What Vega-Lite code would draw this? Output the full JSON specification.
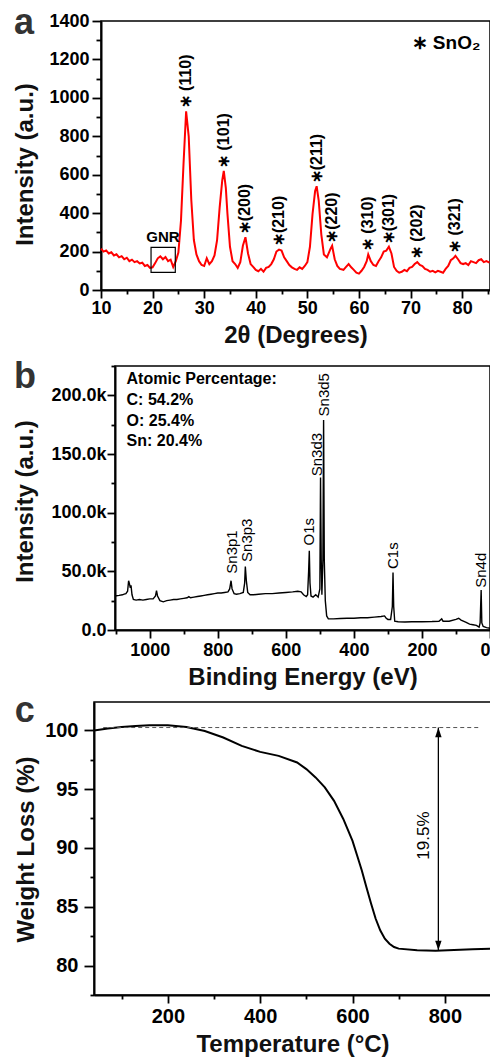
{
  "$schema": "https://vega.github.io/schema/vega-lite/v6.json",
  "background": "white",
  "padding": {"left": 12, "top": 4, "right": 0, "bottom": 0},
  "spacing": 10,
  "datasets": {
    "xrd": [
      {"t":10,"i":215},{"t":10.5,"i":200},{"t":11,"i":206},{"t":11.5,"i":190},{"t":12,"i":196},{"t":12.5,"i":180},{"t":13,"i":186},{"t":13.5,"i":170},{"t":14,"i":176},{"t":14.5,"i":160},{"t":15,"i":168},{"t":15.5,"i":150},{"t":16,"i":158},{"t":16.5,"i":145},{"t":17,"i":150},{"t":17.5,"i":138},{"t":18,"i":142},{"t":18.5,"i":125},{"t":19,"i":130},{"t":19.5,"i":115},{"t":20,"i":118},{"t":20.5,"i":140},{"t":21,"i":165},{"t":21.5,"i":175},{"t":22,"i":160},{"t":22.5,"i":172},{"t":23,"i":150},{"t":23.5,"i":158},{"t":24,"i":120},{"t":24.5,"i":150},{"t":25,"i":195},{"t":25.5,"i":360},{"t":26,"i":660},{"t":26.5,"i":930},{"t":27,"i":800},{"t":27.5,"i":470},{"t":28,"i":260},{"t":28.5,"i":185},{"t":29,"i":150},{"t":29.5,"i":130},{"t":30,"i":125},{"t":30.5,"i":165},{"t":31,"i":135},{"t":31.5,"i":150},{"t":32,"i":180},{"t":32.5,"i":260},{"t":33,"i":430},{"t":33.5,"i":570},{"t":33.8,"i":620},{"t":34.2,"i":530},{"t":34.5,"i":400},{"t":35,"i":225},{"t":35.5,"i":150},{"t":36,"i":135},{"t":36.5,"i":115},{"t":37,"i":145},{"t":37.5,"i":230},{"t":38,"i":275},{"t":38.5,"i":190},{"t":39,"i":135},{"t":39.5,"i":120},{"t":40,"i":105},{"t":40.5,"i":98},{"t":41,"i":110},{"t":41.5,"i":95},{"t":42,"i":115},{"t":42.5,"i":120},{"t":43,"i":135},{"t":43.5,"i":160},{"t":44,"i":200},{"t":44.5,"i":210},{"t":45,"i":205},{"t":45.5,"i":170},{"t":46,"i":150},{"t":46.5,"i":130},{"t":47,"i":118},{"t":47.5,"i":110},{"t":48,"i":105},{"t":48.5,"i":118},{"t":49,"i":110},{"t":49.5,"i":125},{"t":50,"i":145},{"t":50.5,"i":225},{"t":51,"i":395},{"t":51.5,"i":515},{"t":51.8,"i":540},{"t":52.2,"i":465},{"t":52.7,"i":290},{"t":53.2,"i":185},{"t":53.8,"i":170},{"t":54.5,"i":215},{"t":54.8,"i":230},{"t":55.3,"i":160},{"t":55.8,"i":125},{"t":56.3,"i":110},{"t":57,"i":105},{"t":57.5,"i":120},{"t":58,"i":135},{"t":58.5,"i":118},{"t":59,"i":105},{"t":59.5,"i":90},{"t":60,"i":85},{"t":60.5,"i":100},{"t":61,"i":120},{"t":61.5,"i":150},{"t":61.8,"i":185},{"t":62.3,"i":150},{"t":62.8,"i":130},{"t":63.3,"i":125},{"t":63.8,"i":150},{"t":64.3,"i":170},{"t":64.8,"i":200},{"t":65.3,"i":205},{"t":65.8,"i":225},{"t":66.3,"i":190},{"t":66.8,"i":120},{"t":67.3,"i":100},{"t":67.8,"i":90},{"t":68.3,"i":95},{"t":68.8,"i":105},{"t":69.3,"i":98},{"t":69.8,"i":115},{"t":70.3,"i":120},{"t":70.8,"i":135},{"t":71.3,"i":145},{"t":71.8,"i":130},{"t":72.3,"i":125},{"t":72.8,"i":110},{"t":73.3,"i":105},{"t":73.8,"i":95},{"t":74.3,"i":100},{"t":74.8,"i":92},{"t":75.3,"i":100},{"t":75.8,"i":95},{"t":76.3,"i":90},{"t":76.8,"i":110},{"t":77.3,"i":125},{"t":77.8,"i":155},{"t":78.3,"i":165},{"t":78.7,"i":178},{"t":79.2,"i":160},{"t":79.7,"i":140},{"t":80.2,"i":135},{"t":80.7,"i":140},{"t":81.2,"i":130},{"t":81.7,"i":150},{"t":82.2,"i":145},{"t":82.7,"i":140},{"t":83.2,"i":155},{"t":83.7,"i":160},{"t":84.2,"i":145},{"t":84.7,"i":150},{"t":85.3,"i":142}
    ],
    "xrdLabels": [
      {"t":26.5,"i":935,"s":"∗ (110)"},{"t":33.8,"i":625,"s":"∗ (101)"},{"t":38,"i":280,"s":"∗(200)"},{"t":44.5,"i":218,"s":"∗(210)"},{"t":51.8,"i":545,"s":"∗(211)"},{"t":54.8,"i":235,"s":"∗(220)"},{"t":61.8,"i":192,"s":"∗ (310)"},{"t":65.8,"i":228,"s":"∗(301)"},{"t":71.3,"i":150,"s":"∗ (202)"},{"t":78.7,"i":182,"s":"∗ (321)"}
    ],
    "gnrBox": [{"x1":19.7,"x2":24.4,"y1":92,"y2":222}],
    "gnrText": [{"t":22,"i":277,"s":"GNR"}],
    "legendText": [{"t":70.2,"i":1288,"s":"∗ SnO₂"}],
    "xps": [
      {"be":1102,"c":29000},{"be":1090,"c":29500},{"be":1080,"c":30000},{"be":1075,"c":30500},{"be":1070,"c":31000},{"be":1065,"c":33000},{"be":1062,"c":42000},{"be":1060,"c":40000},{"be":1057,"c":36000},{"be":1055,"c":38000},{"be":1052,"c":30000},{"be":1048,"c":26000},{"be":1040,"c":25500},{"be":1030,"c":26000},{"be":1020,"c":25500},{"be":1010,"c":26000},{"be":1000,"c":26500},{"be":990,"c":26500},{"be":983,"c":29000},{"be":980,"c":33500},{"be":977,"c":29000},{"be":970,"c":25000},{"be":960,"c":24000},{"be":950,"c":25000},{"be":940,"c":25500},{"be":930,"c":26000},{"be":920,"c":26000},{"be":910,"c":26500},{"be":900,"c":27000},{"be":890,"c":27500},{"be":885,"c":28500},{"be":880,"c":27500},{"be":870,"c":28000},{"be":860,"c":28500},{"be":850,"c":29000},{"be":840,"c":29500},{"be":830,"c":30000},{"be":820,"c":30500},{"be":810,"c":31000},{"be":800,"c":31500},{"be":790,"c":31500},{"be":780,"c":32000},{"be":770,"c":32500},{"be":765,"c":35000},{"be":761,"c":42000},{"be":758,"c":35000},{"be":752,"c":31000},{"be":745,"c":30500},{"be":735,"c":31000},{"be":725,"c":32000},{"be":721,"c":40000},{"be":719,"c":54000},{"be":716,"c":42000},{"be":712,"c":32000},{"be":705,"c":30000},{"be":695,"c":30000},{"be":680,"c":30500},{"be":660,"c":31000},{"be":640,"c":31000},{"be":620,"c":31500},{"be":600,"c":32000},{"be":580,"c":32500},{"be":565,"c":33000},{"be":555,"c":32500},{"be":548,"c":30000},{"be":540,"c":28500},{"be":536,"c":30000},{"be":533,"c":50000},{"be":531,"c":67500},{"be":529,"c":40000},{"be":526,"c":29000},{"be":520,"c":28000},{"be":512,"c":30000},{"be":505,"c":28000},{"be":500,"c":35000},{"be":498,"c":130000},{"be":496,"c":60000},{"be":494,"c":30000},{"be":491,"c":60000},{"be":489,"c":179000},{"be":487,"c":60000},{"be":484,"c":25000},{"be":480,"c":12000},{"be":475,"c":9500},{"be":460,"c":9500},{"be":440,"c":9800},{"be":420,"c":10000},{"be":400,"c":10000},{"be":380,"c":10500},{"be":360,"c":10500},{"be":340,"c":11000},{"be":320,"c":11500},{"be":310,"c":12000},{"be":305,"c":10000},{"be":300,"c":9000},{"be":292,"c":9000},{"be":287,"c":20000},{"be":285,"c":49000},{"be":283,"c":20000},{"be":280,"c":7500},{"be":270,"c":7000},{"be":250,"c":6800},{"be":230,"c":7000},{"be":200,"c":7000},{"be":170,"c":7200},{"be":150,"c":7500},{"be":142,"c":9500},{"be":138,"c":7500},{"be":120,"c":7500},{"be":100,"c":9000},{"be":92,"c":10000},{"be":85,"c":8500},{"be":70,"c":6500},{"be":60,"c":5000},{"be":50,"c":4500},{"be":40,"c":4000},{"be":32,"c":2500},{"be":29,"c":6000},{"be":26,"c":34000},{"be":24,"c":6000},{"be":20,"c":3000},{"be":10,"c":2000},{"be":0,"c":1500}
    ],
    "xpsLabels": [
      {"be":758,"c":48000,"s":"Sn3p1"},{"be":714,"c":58000,"s":"Sn3p3"},{"be":533,"c":72000,"s":"O1s"},{"be":508,"c":131000,"s":"Sn3d3"},{"be":489,"c":182000,"s":"Sn3d5"},{"be":284,"c":52000,"s":"C1s"},{"be":25,"c":36000,"s":"Sn4d"}
    ],
    "xpsText": [
      {"be":1068,"c":214000,"s":"Atomic Percentage:"},{"be":1068,"c":195700,"s":"C: 54.2%"},{"be":1068,"c":177800,"s":"O: 25.4%"},{"be":1068,"c":160700,"s":"Sn: 20.4%"}
    ],
    "tga": [
      {"T":40,"w":99.98},{"T":70,"w":100.15},{"T":100,"w":100.28},{"T":130,"w":100.36},{"T":160,"w":100.42},{"T":200,"w":100.42},{"T":240,"w":100.28},{"T":280,"w":99.94},{"T":320,"w":99.38},{"T":360,"w":98.67},{"T":400,"w":98.16},{"T":440,"w":97.82},{"T":480,"w":97.26},{"T":500,"w":96.7},{"T":520,"w":95.99},{"T":540,"w":95.14},{"T":560,"w":94.0},{"T":580,"w":92.46},{"T":600,"w":90.6},{"T":610,"w":89.35},{"T":620,"w":88.1},{"T":630,"w":86.67},{"T":640,"w":85.3},{"T":650,"w":84.0},{"T":660,"w":83.0},{"T":670,"w":82.29},{"T":680,"w":81.86},{"T":690,"w":81.58},{"T":700,"w":81.44},{"T":740,"w":81.3},{"T":780,"w":81.27},{"T":820,"w":81.33},{"T":860,"w":81.38},{"T":900,"w":81.44}
    ],
    "tgaDash": [{"x1":60,"x2":877,"y":100.23}],
    "tgaArrow": [{"x":786,"y1":100.23,"y2":81.3}],
    "tgaText": [{"x":755,"y":91.05,"s":"19.5%"}]
  },
  "vconcat": [
    {
      "spacing": 0,
      "hconcat": [
        {"width": 1, "height": 1, "data": {"values": []}, "mark": {"type": "point", "opacity": 0}, "view": {"stroke": null}},
        {
          "width": 389,
          "height": 269,
          "title": {"text": "a", "offset": -30},
          "resolve": {"axis": {"x": "independent", "y": "independent"}},
          "layer": [
            {
              "data": {"name": "xrd"},
              "mark": {"type": "line", "color": "#ff0000", "strokeWidth": 2},
              "encoding": {
                "x": {"field": "t", "type": "quantitative",
                  "scale": {"domain": [10, 85.4], "nice": false, "zero": false},
                  "axis": {"orient": "bottom", "title": "2θ (Degrees)", "values": [10,20,30,40,50,60,70,80],
                    "tickSize": 8, "labelPadding": 1, "titlePadding": 6, "labelFlush": false}},
                "y": {"field": "i", "type": "quantitative",
                  "scale": {"domain": [0, 1400], "nice": false},
                  "axis": {"orient": "left", "title": "Intensity (a.u.)", "format": "d", "values": [0,200,400,600,800,1000,1200,1400],
                    "tickSize": 9, "labelPadding": 3, "titlePadding": 11, "titleY": 143}}
              }
            },
            {
              "data": {"name": "gnrBox"},
              "mark": {"type": "rect", "fill": null, "fillOpacity": 0, "stroke": "black", "strokeWidth": 1.2},
              "encoding": {
                "x": {"field": "x1", "type": "quantitative",
                  "axis": {"orient": "bottom", "title": null, "labels": false, "domain": false, "values": [15,25,35,45,55,65,75,85], "tickSize": 4}},
                "x2": {"field": "x2"},
                "y": {"field": "y1", "type": "quantitative",
                  "axis": {"orient": "left", "title": null, "labels": false, "domain": false, "values": [100,300,500,700,900,1100,1300], "tickSize": 5}},
                "y2": {"field": "y2"}
              }
            },
            {
              "data": {"name": "gnrText"},
              "mark": {"type": "text", "font": "Liberation Sans", "fontWeight": "bold", "fontSize": 15, "align": "center", "baseline": "middle"},
              "encoding": {
                "x": {"field": "t", "type": "quantitative", "axis": null}, "y": {"field": "i", "type": "quantitative", "axis": null}, "text": {"field": "s"}
              }
            },
            {
              "data": {"name": "xrdLabels"},
              "mark": {"type": "text", "font": "Liberation Sans", "fontWeight": "bold", "fontSize": 16, "angle": 270, "align": "left", "baseline": "middle", "dx": 2},
              "encoding": {
                "x": {"field": "t", "type": "quantitative", "axis": null}, "y": {"field": "i", "type": "quantitative", "axis": null}, "text": {"field": "s"}
              }
            },
            {
              "data": {"name": "legendText"},
              "mark": {"type": "text", "font": "Liberation Sans", "fontWeight": "bold", "fontSize": 19, "align": "left", "baseline": "middle"},
              "encoding": {
                "x": {"field": "t", "type": "quantitative", "axis": null}, "y": {"field": "i", "type": "quantitative", "axis": null}, "text": {"field": "s"}
              }
            }
          ]
        }
      ]
    },
    {
      "spacing": 2,
      "vconcat": [
        {
          "spacing": 0,
          "hconcat": [
            {"width": 1, "height": 1, "data": {"values": []}, "mark": {"type": "point", "opacity": 0}, "view": {"stroke": null}},
            {
              "width": 375,
              "height": 264,
              "title": {"text": "b", "offset": -31},
              "resolve": {"axis": {"x": "independent", "y": "independent"}},
              "layer": [
                {
                  "data": {"name": "xps"},
                  "mark": {"type": "line", "color": "black", "strokeWidth": 1.4},
                  "encoding": {
                    "x": {"field": "be", "type": "quantitative",
                      "scale": {"domain": [1102, 0], "nice": false, "zero": false},
                      "axis": {"orient": "bottom", "title": "Binding Energy (eV)", "format": "d", "values": [1000,800,600,400,200,0],
                        "tickSize": 8, "labelPadding": 3, "titlePadding": 6, "labelFlush": true}},
                    "y": {"field": "c", "type": "quantitative",
                      "scale": {"domain": [0, 225000], "nice": false},
                      "axis": {"orient": "left", "title": "Intensity (a.u.)", "values": [0,50000,100000,150000,200000],
                        "labelExpr": "format(datum.value/1000, '.1f') + (datum.value == 0 ? '' : 'k')",
                        "tickSize": 8, "labelPadding": 1, "titlePadding": 13, "titleY": 135}}
                  }
                },
                {
                  "data": {"name": "xpsLabels"},
                  "mark": {"type": "text", "font": "Liberation Sans", "fontSize": 15, "angle": 270, "align": "left", "baseline": "middle"},
                  "encoding": {
                    "x": {"field": "be", "type": "quantitative",
                      "axis": {"orient": "bottom", "title": null, "labels": false, "domain": false, "values": [1100,900,700,500,300,100], "tickSize": 4}},
                    "y": {"field": "c", "type": "quantitative",
                      "axis": {"orient": "left", "title": null, "labels": false, "domain": false, "values": [25000,75000,125000,175000,225000], "tickSize": 4}},
                    "text": {"field": "s"}
                  }
                },
                {
                  "data": {"name": "xpsText"},
                  "mark": {"type": "text", "font": "Liberation Sans", "fontWeight": "bold", "fontSize": 16, "align": "left", "baseline": "middle"},
                  "encoding": {
                    "x": {"field": "be", "type": "quantitative", "axis": null}, "y": {"field": "c", "type": "quantitative", "axis": null}, "text": {"field": "s"}
                  }
                }
              ]
            }
          ]
        },
        {
          "spacing": 0,
          "hconcat": [
            {"width": 1, "height": 1, "data": {"values": []}, "mark": {"type": "point", "opacity": 0}, "view": {"stroke": null}},
            {
              "width": 397,
              "height": 293,
              "title": {"text": "c", "offset": -28},
              "resolve": {"axis": {"x": "independent", "y": "independent"}},
              "layer": [
                {
                  "data": {"name": "tga"},
                  "mark": {"type": "line", "color": "black", "strokeWidth": 2},
                  "encoding": {
                    "x": {"field": "T", "type": "quantitative",
                      "scale": {"domain": [40, 900], "nice": false, "zero": false},
                      "axis": {"orient": "bottom", "title": "Temperature (°C)", "values": [200,400,600,800],
                        "tickSize": 8, "labelFontSize": 20, "labelPadding": 3, "titlePadding": 6, "labelFlush": false}},
                    "y": {"field": "w", "type": "quantitative",
                      "scale": {"domain": [77.5, 102.4], "nice": false, "zero": false},
                      "axis": {"orient": "left", "title": "Weight Loss (%)", "format": "d", "values": [80,85,90,95,100],
                        "tickSize": 10, "labelFontSize": 20, "labelPadding": 6, "titlePadding": 6, "titleY": 147}}
                  }
                },
                {
                  "data": {"name": "tgaDash"},
                  "mark": {"type": "rule", "color": "#555", "strokeWidth": 1, "strokeDash": [4, 3]},
                  "encoding": {
                    "x": {"field": "x1", "type": "quantitative",
                      "axis": {"orient": "bottom", "title": null, "labels": false, "domain": false, "values": [100,300,500,700,900], "tickSize": 4}},
                    "x2": {"field": "x2"},
                    "y": {"field": "y", "type": "quantitative",
                      "axis": {"orient": "left", "title": null, "labels": false, "domain": false, "values": [77.5,82.5,87.5,92.5,97.5], "tickSize": 4}}
                  }
                },
                {
                  "data": {"name": "tgaArrow"},
                  "mark": {"type": "rule", "color": "black", "strokeWidth": 1.3},
                  "encoding": {
                    "x": {"field": "x", "type": "quantitative", "axis": null}, "y": {"field": "y1", "type": "quantitative", "axis": null}, "y2": {"field": "y2"}
                  }
                },
                {
                  "data": {"name": "tgaArrow"},
                  "mark": {"type": "point", "shape": "M0,0L-0.8,2.4L0.8,2.4Z", "filled": true, "color": "black", "size": 64, "opacity": 1},
                  "encoding": {
                    "x": {"field": "x", "type": "quantitative", "axis": null}, "y": {"field": "y1", "type": "quantitative", "axis": null}
                  }
                },
                {
                  "data": {"name": "tgaArrow"},
                  "mark": {"type": "point", "shape": "M0,0L-0.8,-2.4L0.8,-2.4Z", "filled": true, "color": "black", "size": 64, "opacity": 1},
                  "encoding": {
                    "x": {"field": "x", "type": "quantitative", "axis": null}, "y": {"field": "y2", "type": "quantitative", "axis": null}
                  }
                },
                {
                  "data": {"name": "tgaText"},
                  "mark": {"type": "text", "font": "Liberation Sans", "fontSize": 17, "angle": 270, "align": "center", "baseline": "middle"},
                  "encoding": {
                    "x": {"field": "x", "type": "quantitative", "axis": null}, "y": {"field": "y", "type": "quantitative", "axis": null}, "text": {"field": "s"}
                  }
                }
              ]
            }
          ]
        }
      ]
    }
  ],
  "config": {
    "view": {"stroke": "black", "strokeWidth": 1.5},
    "axis": {"domainColor": "black", "domainWidth": 2, "tickColor": "black", "tickWidth": 1.8,
      "labelFont": "Liberation Sans", "labelFontWeight": "bold", "labelFontSize": 18, "labelColor": "black",
      "titleFont": "Liberation Sans", "titleFontWeight": "bold", "titleFontSize": 24, "titleColor": "#111",
      "grid": false, "labelOverlap": false},
    "title": {"font": "Liberation Sans", "fontSize": 36, "fontWeight": "bold", "color": "#333", "anchor": "start", "frame": "bounds", "baseline": "alphabetic"},
    "text": {"font": "Liberation Sans", "color": "black"}
  }
}
